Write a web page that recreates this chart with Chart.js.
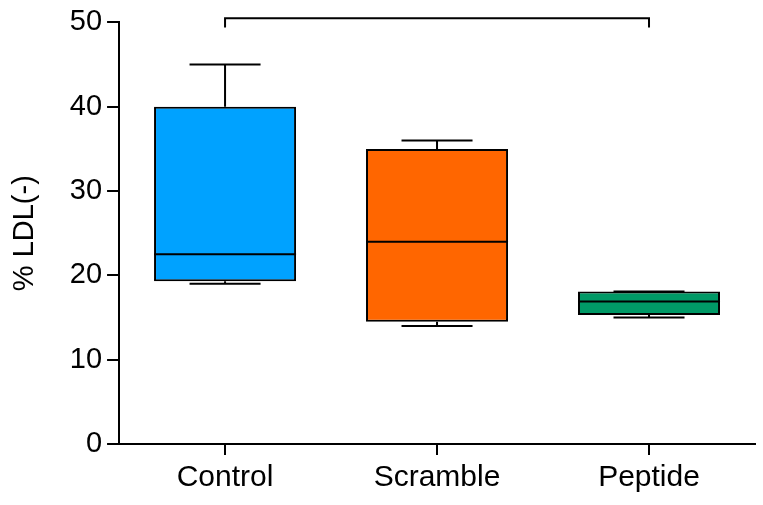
<!DOCTYPE html>
<html>
<head>
<meta charset="utf-8">
<script src="https://cdn.jsdelivr.net/npm/chart.js@4.4.0/dist/chart.umd.min.js"></script>
<style>
  html, body { margin: 0; padding: 0; background: #fff; }
</style>
</head>
<body>
<canvas id="box-chart" width="763" height="505"></canvas>
<script>
// box plot data
const groups = ['Control', 'Scramble', 'Peptide'];
const minValues = [19.0, 14.0, 15.0];
const q1Values = [19.3, 14.5, 15.3];
const medianValues = [22.5, 24.0, 16.9];
const q3Values = [40.0, 35.0, 18.1];
const maxValues = [45.0, 36.0, 18.1];
const boxColors = ['#00A2FF', '#FF6600', '#009966'];
const yTicks = [0, 10, 20, 30, 40, 50];

// significance bracket between first and last group
const bracketFrom = 0;
const bracketTo = 2;
const bracketLevel = 50.5;
const bracketTip = 49.4;

const fontFamily = '"Liberation Sans", Arial, Helvetica, sans-serif';

// draws whiskers, medians and the bracket on top of the floating bars
const boxExtras = {
  id: 'boxExtras',
  afterDatasetsDraw(chart) {
    const ctx = chart.ctx;
    const x = chart.scales.x;
    const y = chart.scales.y;
    const meta = chart.getDatasetMeta(0);
    ctx.save();
    ctx.strokeStyle = '#000';
    ctx.lineWidth = 2;
    ctx.lineCap = 'butt';
    meta.data.forEach((bar, i) => {
      const cx = x.getPixelForValue(i);
      const half = bar.width / 2;
      const cap = half / 2;
      ctx.beginPath();
      // upper whisker
      ctx.moveTo(cx, y.getPixelForValue(q3Values[i]));
      ctx.lineTo(cx, y.getPixelForValue(maxValues[i]));
      ctx.moveTo(cx - cap, y.getPixelForValue(maxValues[i]));
      ctx.lineTo(cx + cap, y.getPixelForValue(maxValues[i]));
      // lower whisker
      ctx.moveTo(cx, y.getPixelForValue(q1Values[i]));
      ctx.lineTo(cx, y.getPixelForValue(minValues[i]));
      ctx.moveTo(cx - cap, y.getPixelForValue(minValues[i]));
      ctx.lineTo(cx + cap, y.getPixelForValue(minValues[i]));
      // median
      ctx.moveTo(cx - half, y.getPixelForValue(medianValues[i]));
      ctx.lineTo(cx + half, y.getPixelForValue(medianValues[i]));
      ctx.stroke();
    });
    // bracket
    const x0 = x.getPixelForValue(bracketFrom);
    const x1 = x.getPixelForValue(bracketTo);
    const yb = y.getPixelForValue(bracketLevel);
    const yt = y.getPixelForValue(bracketTip);
    ctx.beginPath();
    ctx.moveTo(x0, yt);
    ctx.lineTo(x0, yb);
    ctx.lineTo(x1, yb);
    ctx.lineTo(x1, yt);
    ctx.stroke();
    ctx.restore();
  }
};

const chartCanvas = document.getElementById('box-chart').getContext('2d');

const config = {
  type: 'bar',
  data: {
    labels: groups,
    datasets: [
      {
        label: '% LDL(-)',
        data: q1Values.map((q1, i) => [q1, q3Values[i]]),
        backgroundColor: boxColors,
        borderColor: '#000',
        borderWidth: 2,
        borderSkipped: false,
        categoryPercentage: 1,
        barPercentage: 0.67,
      },
    ],
  },
  options: {
    responsive: false,
    animation: false,
    layout: { padding: { top: 22, right: 8, left: 8, bottom: 4 } },
    plugins: {
      legend: { display: false },
      tooltip: { enabled: false },
    },
    scales: {
      x: {
        grid: {
          display: true,
          offset: false,
          drawOnChartArea: false,
          drawTicks: true,
          tickLength: 11,
          color: '#000',
          lineWidth: 2,
        },
        border: { display: true, color: '#000', width: 2 },
        ticks: {
          color: '#000',
          padding: 5,
          font: { family: fontFamily, size: 30 },
        },
      },
      y: {
        min: 0,
        max: 50,
        afterBuildTicks: (axis) => {
          axis.ticks = yTicks.map((v) => ({ value: v }));
        },
        grid: {
          display: true,
          drawOnChartArea: false,
          drawTicks: true,
          tickLength: 12,
          color: '#000',
          lineWidth: 2,
        },
        border: { display: true, color: '#000', width: 2 },
        ticks: {
          color: '#000',
          padding: 5,
          font: { family: fontFamily, size: 29 },
        },
        title: {
          display: true,
          text: '% LDL(-)',
          color: '#000',
          padding: { top: 0, bottom: 22 },
          font: { family: fontFamily, size: 29 },
        },
      },
    },
  },
  plugins: [boxExtras],
};

const boxChart = new Chart(chartCanvas, config);
</script>
</body>
</html>
